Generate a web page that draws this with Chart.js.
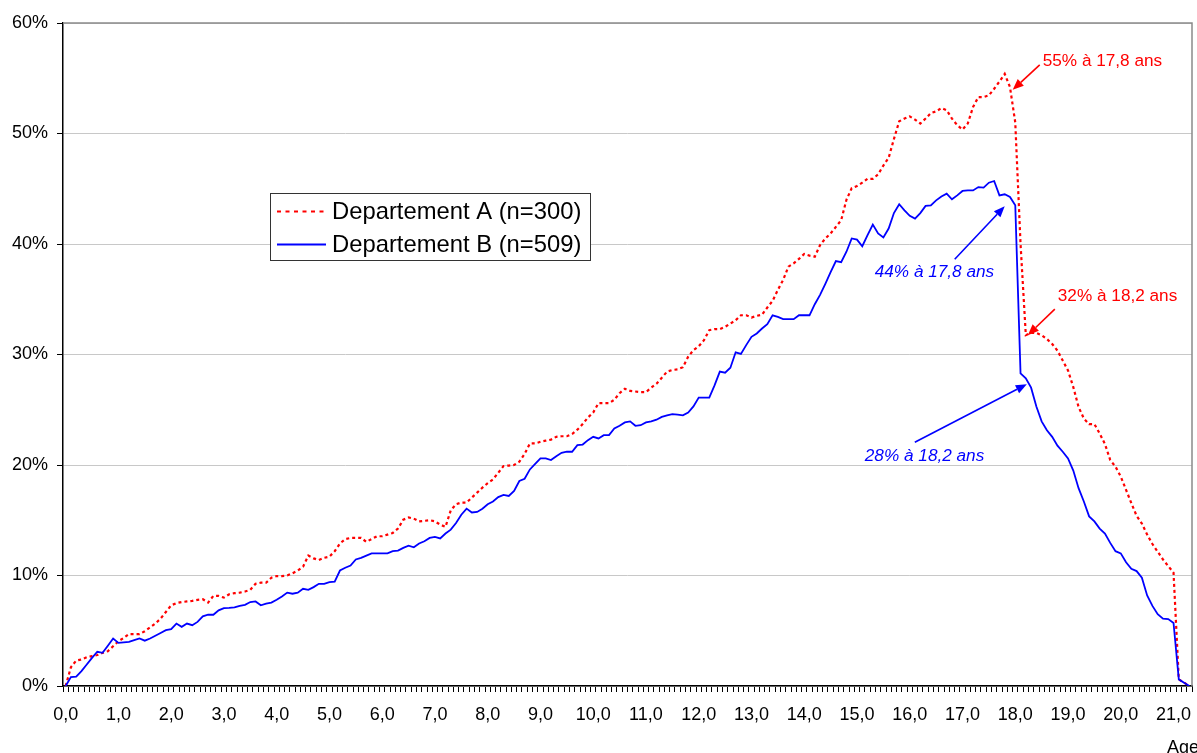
<!DOCTYPE html>
<html>
<head>
<meta charset="utf-8">
<script src="https://cdn.jsdelivr.net/npm/chart.js@4.4.1/dist/chart.umd.min.js"></script>
<style>
    html, body { margin: 0; padding: 0; background: #fff; }
    canvas { display: block; }
</style>
</head>
<body>
<canvas id="ageChart" width="1197" height="753"></canvas>
<script>
// Ages 0,0 .. 21,3 (one category every 0.1 year)
const ages = Array.from({ length: 214 }, (_, i) => (i / 10).toFixed(1).replace('.', ','));

const yTicks = [0, 10, 20, 30, 40, 50, 60];

// Departement A (n=300), in %
const deptA = [
    0, 1.7, 2.3, 2.4, 2.6, 2.7, 2.8, 3.0, 3.15, 3.6,
    4.05, 4.35, 4.7, 4.7, 4.7, 4.95, 5.3, 5.65, 6.1, 6.7,
    7.3, 7.5, 7.6, 7.65, 7.7, 7.8, 7.85, 7.55, 8.15, 8.15,
    8.0, 8.3, 8.4, 8.45, 8.55, 8.7, 9.25, 9.35, 9.35, 9.8,
    9.95, 9.95, 10.0, 10.2, 10.45, 10.8, 11.8, 11.55, 11.4, 11.6,
    11.7, 12.2, 12.9, 13.3, 13.4, 13.4, 13.4, 13.05, 13.3, 13.55,
    13.55, 13.7, 13.85, 14.25, 15.05, 15.25, 15.15, 14.9, 14.95, 15.0,
    14.9, 14.6, 14.4, 15.9, 16.45, 16.6, 16.6, 17.05, 17.5, 17.95,
    18.35, 18.7, 19.3, 19.9, 19.95, 20.0, 20.3, 21.0, 21.95, 21.95,
    22.1, 22.2, 22.3, 22.55, 22.6, 22.6, 22.8, 23.2, 23.7, 24.3,
    24.75, 25.6, 25.6, 25.6, 25.9, 26.5, 26.9, 26.7, 26.65, 26.6,
    26.6, 27.0, 27.35, 27.9, 28.45, 28.6, 28.65, 28.85, 29.8, 30.4,
    30.75, 31.3, 32.2, 32.3, 32.3, 32.5, 32.8, 33.1, 33.55, 33.55,
    33.35, 33.5, 33.6, 34.25, 34.85, 35.85, 36.75, 37.95, 38.25, 38.65,
    39.1, 38.95, 38.85, 39.9, 40.5, 40.95, 41.55, 42.15, 44.0, 45.05,
    45.25, 45.55, 45.9, 45.9, 46.3, 47.1, 47.8, 49.5, 51.1, 51.35,
    51.55, 51.25, 50.9, 51.35, 51.85, 52.0, 52.3, 52.1, 51.35, 50.75,
    50.35, 50.9, 52.4, 53.3, 53.3, 53.45, 54.05, 54.7, 55.4, 54.2,
    51.0, 40.0, 31.75, 31.95, 31.95, 31.75, 31.4, 30.95, 30.35, 29.45,
    28.55, 27.05, 25.25, 24.2, 23.7, 23.7, 22.85, 21.9, 20.45, 19.85,
    18.95, 17.75, 16.55, 15.4, 14.7, 13.7, 12.85, 12.15, 11.45, 10.85,
    10.25, 0.6, 0.3, 0
];

// Departement B (n=509), in %
const deptB = [
    0, 0.8, 0.85, 1.35, 1.95, 2.55, 3.1, 3.0, 3.65, 4.3,
    3.9, 3.95, 4.0, 4.15, 4.3, 4.1, 4.3, 4.55, 4.8, 5.05,
    5.15, 5.65, 5.35, 5.65, 5.5, 5.8, 6.3, 6.45, 6.45, 6.85,
    7.05, 7.07, 7.12, 7.25, 7.35, 7.6, 7.65, 7.3, 7.45, 7.55,
    7.8, 8.1, 8.45, 8.35, 8.45, 8.8, 8.7, 8.95, 9.25, 9.25,
    9.4, 9.45, 10.45, 10.7, 10.9, 11.45, 11.6, 11.8, 12.0, 12.0,
    12.0, 12.0, 12.2, 12.25, 12.5, 12.7, 12.55, 12.9, 13.1, 13.4,
    13.5, 13.35, 13.8, 14.15, 14.75, 15.5, 16.05, 15.7, 15.75, 16.05,
    16.45, 16.7, 17.1, 17.3, 17.2, 17.65, 18.55, 18.75, 19.6, 20.1,
    20.6, 20.6, 20.45, 20.8, 21.1, 21.2, 21.2, 21.8, 21.85, 22.25,
    22.55, 22.4, 22.7, 22.7, 23.3, 23.55, 23.85, 23.95, 23.55, 23.6,
    23.85, 23.95, 24.1, 24.35, 24.5, 24.6, 24.55, 24.5, 24.75, 25.3,
    26.1, 26.1, 26.1, 27.2, 28.45, 28.35, 28.8, 30.2, 30.05, 30.85,
    31.6, 31.9, 32.35, 32.75, 33.55, 33.4, 33.2, 33.2, 33.2, 33.55,
    33.55, 33.55, 34.55, 35.4, 36.4, 37.45, 38.45, 38.35, 39.3, 40.5,
    40.4, 39.8, 40.8, 41.75, 40.95, 40.6, 41.4, 42.8, 43.6, 43.05,
    42.55, 42.3, 42.8, 43.45, 43.5, 43.95, 44.3, 44.55, 44.05, 44.4,
    44.8, 44.85, 44.85, 45.15, 45.1, 45.55, 45.7, 44.4, 44.5, 44.25,
    43.5, 28.3, 27.85, 27.0, 25.3, 23.95, 23.15, 22.55, 21.75, 21.2,
    20.6, 19.5, 17.9, 16.7, 15.35, 14.9, 14.25, 13.8, 12.95, 12.2,
    12.0, 11.2, 10.6, 10.4, 9.8, 8.2, 7.25, 6.5, 6.1, 6.05,
    5.7, 0.6, 0.3, 0
];

const seriesNames = ['Departement A (n=300)', 'Departement B (n=509)'];
const RED = '#ff0000';
const BLUE = '#0000ff';
const FONT = '"Liberation Sans", Arial, sans-serif';

// callouts: dataset index, category index, offsets from the point (tip, tail, text)
const callouts = [
    { ds: 0, idx: 178, text: '55% à 17,8 ans', color: RED, italic: false, tip: [8, 16], tail: [35, -9], label: [38, -13] },
    { ds: 0, idx: 182, text: '32% à 18,2 ans', color: RED, italic: false, tip: [2, 0], tail: [29, -26], label: [32, -39] },
    { ds: 1, idx: 178, text: '44% à 17,8 ans', color: BLUE, italic: true, tip: [0, 12], tail: [-50, 65], label: [-130, 78] },
    { ds: 1, idx: 182, text: '28% à 18,2 ans', color: BLUE, italic: true, tip: [1, 6], tail: [-111, 64], label: [-161, 78] }
];

function drawArrow(ctx, x1, y1, x2, y2, color) {
    const ang = Math.atan2(y2 - y1, x2 - x1);
    const len = 11, half = 4.5;
    const bx = x2 - len * Math.cos(ang), by = y2 - len * Math.sin(ang);
    ctx.strokeStyle = color;
    ctx.fillStyle = color;
    ctx.lineWidth = 1.6;
    ctx.beginPath();
    ctx.moveTo(x1, y1);
    ctx.lineTo(bx, by);
    ctx.stroke();
    ctx.beginPath();
    ctx.moveTo(x2, y2);
    ctx.lineTo(bx + half * Math.sin(ang), by - half * Math.cos(ang));
    ctx.lineTo(bx - half * Math.sin(ang), by + half * Math.cos(ang));
    ctx.closePath();
    ctx.fill();
}

const decorPlugin = {
    id: 'decor',
    beforeDatasetsDraw(chart) {
        const { ctx, chartArea } = chart;
        ctx.save();
        ctx.strokeStyle = '#8a8a8a';
        ctx.lineWidth = 1.5;
        ctx.beginPath();
        ctx.moveTo(chartArea.left, chartArea.top);
        ctx.lineTo(chartArea.right, chartArea.top);
        ctx.lineTo(chartArea.right, chartArea.bottom);
        ctx.stroke();
        ctx.restore();
    },
    afterDatasetsDraw(chart) {
        const { ctx } = chart;
        ctx.save();

        // legend box
        const lx = 270.5, ly = 193.5, lw = 320, lh = 67;
        ctx.fillStyle = '#fff';
        ctx.fillRect(lx, ly, lw, lh);
        ctx.strokeStyle = '#333';
        ctx.lineWidth = 1;
        ctx.strokeRect(lx, ly, lw, lh);

        ctx.lineWidth = 2;
        ctx.strokeStyle = RED;
        ctx.setLineDash([4, 4.5]);
        ctx.beginPath();
        ctx.moveTo(277, 211.5);
        ctx.lineTo(324, 211.5);
        ctx.stroke();
        ctx.setLineDash([]);
        ctx.strokeStyle = BLUE;
        ctx.beginPath();
        ctx.moveTo(277, 244.5);
        ctx.lineTo(326, 244.5);
        ctx.stroke();

        ctx.fillStyle = '#000';
        ctx.font = '23.8px ' + FONT;
        ctx.textBaseline = 'middle';
        ctx.textAlign = 'left';
        ctx.fillText(seriesNames[0], 332, 212);
        ctx.fillText(seriesNames[1], 332, 245);

        // callouts
        callouts.forEach(c => {
            const pt = chart.getDatasetMeta(c.ds).data[c.idx];
            drawArrow(ctx, pt.x + c.tail[0], pt.y + c.tail[1], pt.x + c.tip[0], pt.y + c.tip[1], c.color);
            ctx.fillStyle = c.color;
            ctx.font = (c.italic ? 'italic ' : '') + '17.2px ' + FONT;
            ctx.textBaseline = 'middle';
            ctx.fillText(c.text, pt.x + c.label[0], pt.y + c.label[1]);
        });

        // axis title
        ctx.fillStyle = '#000';
        ctx.font = '18px ' + FONT;
        ctx.textBaseline = 'alphabetic';
        ctx.fillText('Age', 1167, 753);
        ctx.restore();
    }
};

new Chart(document.getElementById('ageChart'), {
    type: 'line',
    data: {
        labels: ages,
        datasets: [
            {
                label: seriesNames[0],
                data: deptA,
                borderColor: RED,
                borderWidth: 2.2,
                borderDash: [3, 3],
                pointRadius: 0,
                tension: 0,
                fill: false,
                order: 1
            },
            {
                label: seriesNames[1],
                data: deptB,
                borderColor: BLUE,
                borderWidth: 1.8,
                pointRadius: 0,
                tension: 0,
                fill: false,
                order: 0
            }
        ]
    },
    options: {
        responsive: false,
        animation: false,
        devicePixelRatio: 1,
        layout: { padding: { top: 23, right: 5, left: 0, bottom: 0 } },
        plugins: {
            legend: { display: false },
            tooltip: { enabled: false }
        },
        scales: {
            x: {
                type: 'category',
                offset: true,
                afterFit: (scale) => {
                    scale.height = 67;
                    scale.paddingLeft = 0;
                    scale.paddingRight = 0;
                },
                grid: {
                    offset: true,
                    drawOnChartArea: false,
                    drawTicks: true,
                    tickLength: 6,
                    tickColor: '#000'
                },
                border: { color: '#000', width: 1.5 },
                ticks: {
                    autoSkip: false,
                    maxRotation: 0,
                    minRotation: 0,
                    padding: 12,
                    color: '#000',
                    font: { family: FONT, size: 18 },
                    callback: (value, index) => (index % 10 === 0 ? ages[index] : '')
                }
            },
            y: {
                min: 0,
                max: 60,
                afterFit: (scale) => { scale.width = 63; },
                afterBuildTicks: (scale) => { scale.ticks = yTicks.map(v => ({ value: v })); },
                grid: {
                    color: '#c8c8c8',
                    lineWidth: 1,
                    tickLength: 6,
                    tickColor: '#000'
                },
                border: { color: '#000', width: 1.5 },
                ticks: {
                    padding: 9,
                    color: '#000',
                    font: { family: FONT, size: 18 },
                    callback: (v) => v + '%'
                }
            }
        }
    },
    plugins: [decorPlugin]
});
</script>
</body>
</html>
